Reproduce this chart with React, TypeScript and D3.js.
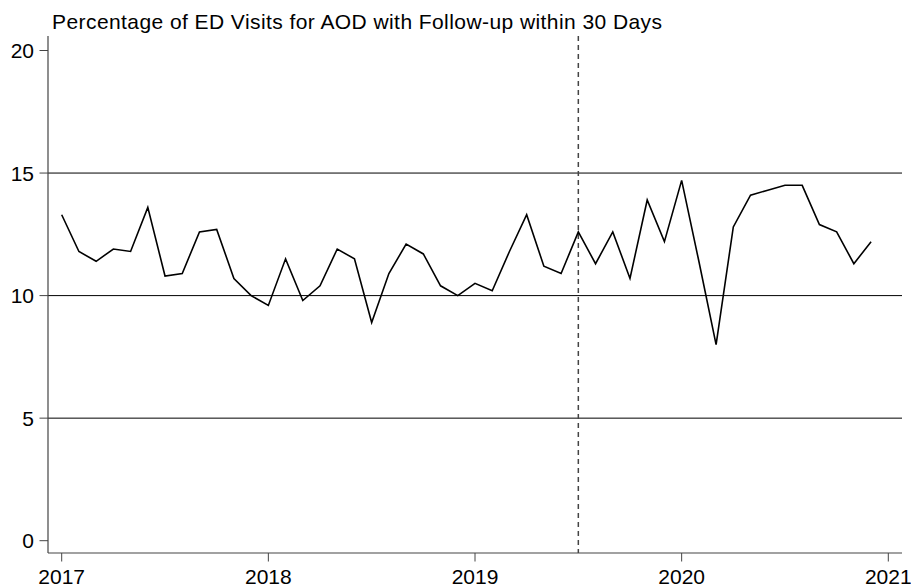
import React from "react";
import * as d3 from "d3";

// monthly values, Jan 2017 - Dec 2020
const startYear = 2017;
const pctFollowUp = [
  13.3, 11.8, 11.4, 11.9, 11.8, 13.6, 10.8, 10.9, 12.6, 12.7, 10.7, 10.0,
  9.6, 11.5, 9.8, 10.4, 11.9, 11.5, 8.9, 10.9, 12.1, 11.7, 10.4, 10.0,
  10.5, 10.2, 11.8, 13.3, 11.2, 10.9, 12.6, 11.3, 12.6, 10.7, 13.9, 12.2,
  14.7, 11.4, 8.0, 12.8, 14.1, 14.3, 14.5, 14.5, 12.9, 12.6, 11.3, 12.2,
];
const yTicks = [0, 5, 10, 15, 20];
const gridValues = [5, 10, 15];
const xTicks = [2017, 2018, 2019, 2020, 2021];
const policyDate = 2019 + 6 / 12; // July 2019
const title = "Percentage of ED Visits for AOD with Follow-up within 30 Days";

export default function App() {
  const width = 911;
  const height = 587;
  const plot = { left: 48, right: 902, top: 36, bottom: 553 };
  const font = "'Liberation Sans', Arial, Helvetica, sans-serif";

  // scale in decimal years
  const x = d3
    .scaleLinear()
    .domain([2017, 2021])
    .range([61.7, 888.3]);

  const y = d3.scaleLinear().domain([0, 20]).range([540.7, 50.5]);

  const line = d3
    .line<number>()
    .x((_, i) => x(startYear + i / 12))
    .y((d) => y(d));

  return (
    <svg
      width={width}
      height={height}
      style={{ position: "absolute", left: 0, top: 0, background: "#fff" }}
    >
      {/* titulo */}
      <text
        x={52}
        y={28.5}
        fontFamily={font}
        fontSize={21}
        fill="#000"
        textLength={610}
        lengthAdjust="spacing"
      >
        {title}
      </text>

      {/* grid */}
      {gridValues.map((v) => (
        <line
          key={v}
          x1={plot.left}
          x2={plot.right}
          y1={y(v)}
          y2={y(v)}
          stroke="#000"
          strokeWidth={1}
        />
      ))}

      {/* eje Y */}
      <line
        x1={plot.left}
        x2={plot.left}
        y1={plot.top}
        y2={plot.bottom}
        stroke="#444"
        strokeWidth={1.2}
      />
      {yTicks.map((t) => (
        <g key={t}>
          <line
            x1={plot.left - 8.5}
            x2={plot.left}
            y1={y(t)}
            y2={y(t)}
            stroke="#444"
            strokeWidth={1}
          />
          <text
            x={34}
            y={y(t)}
            dy="0.36em"
            textAnchor="end"
            fontFamily={font}
            fontSize={21}
            fill="#000"
          >
            {t}
          </text>
        </g>
      ))}

      {/* eje X */}
      <line
        x1={plot.left}
        x2={plot.right}
        y1={plot.bottom}
        y2={plot.bottom}
        stroke="#444"
        strokeWidth={1.2}
      />
      {xTicks.map((t) => (
        <g key={t}>
          <line
            x1={x(t)}
            x2={x(t)}
            y1={plot.bottom}
            y2={plot.bottom + 8.5}
            stroke="#444"
            strokeWidth={1}
          />
          <text
            x={x(t)}
            y={583.5}
            textAnchor="middle"
            fontFamily={font}
            fontSize={21}
            fill="#000"
          >
            {t}
          </text>
        </g>
      ))}

      {/* linea de politica */}
      <line
        x1={x(policyDate)}
        x2={x(policyDate)}
        y1={plot.top}
        y2={plot.bottom}
        stroke="#444"
        strokeWidth={1.5}
        strokeDasharray="5,4"
      />

      {/* serie */}
      <path
        d={line(pctFollowUp) ?? ""}
        fill="none"
        stroke="#000"
        strokeWidth={1.6}
        strokeLinejoin="miter"
      />
    </svg>
  );
}
